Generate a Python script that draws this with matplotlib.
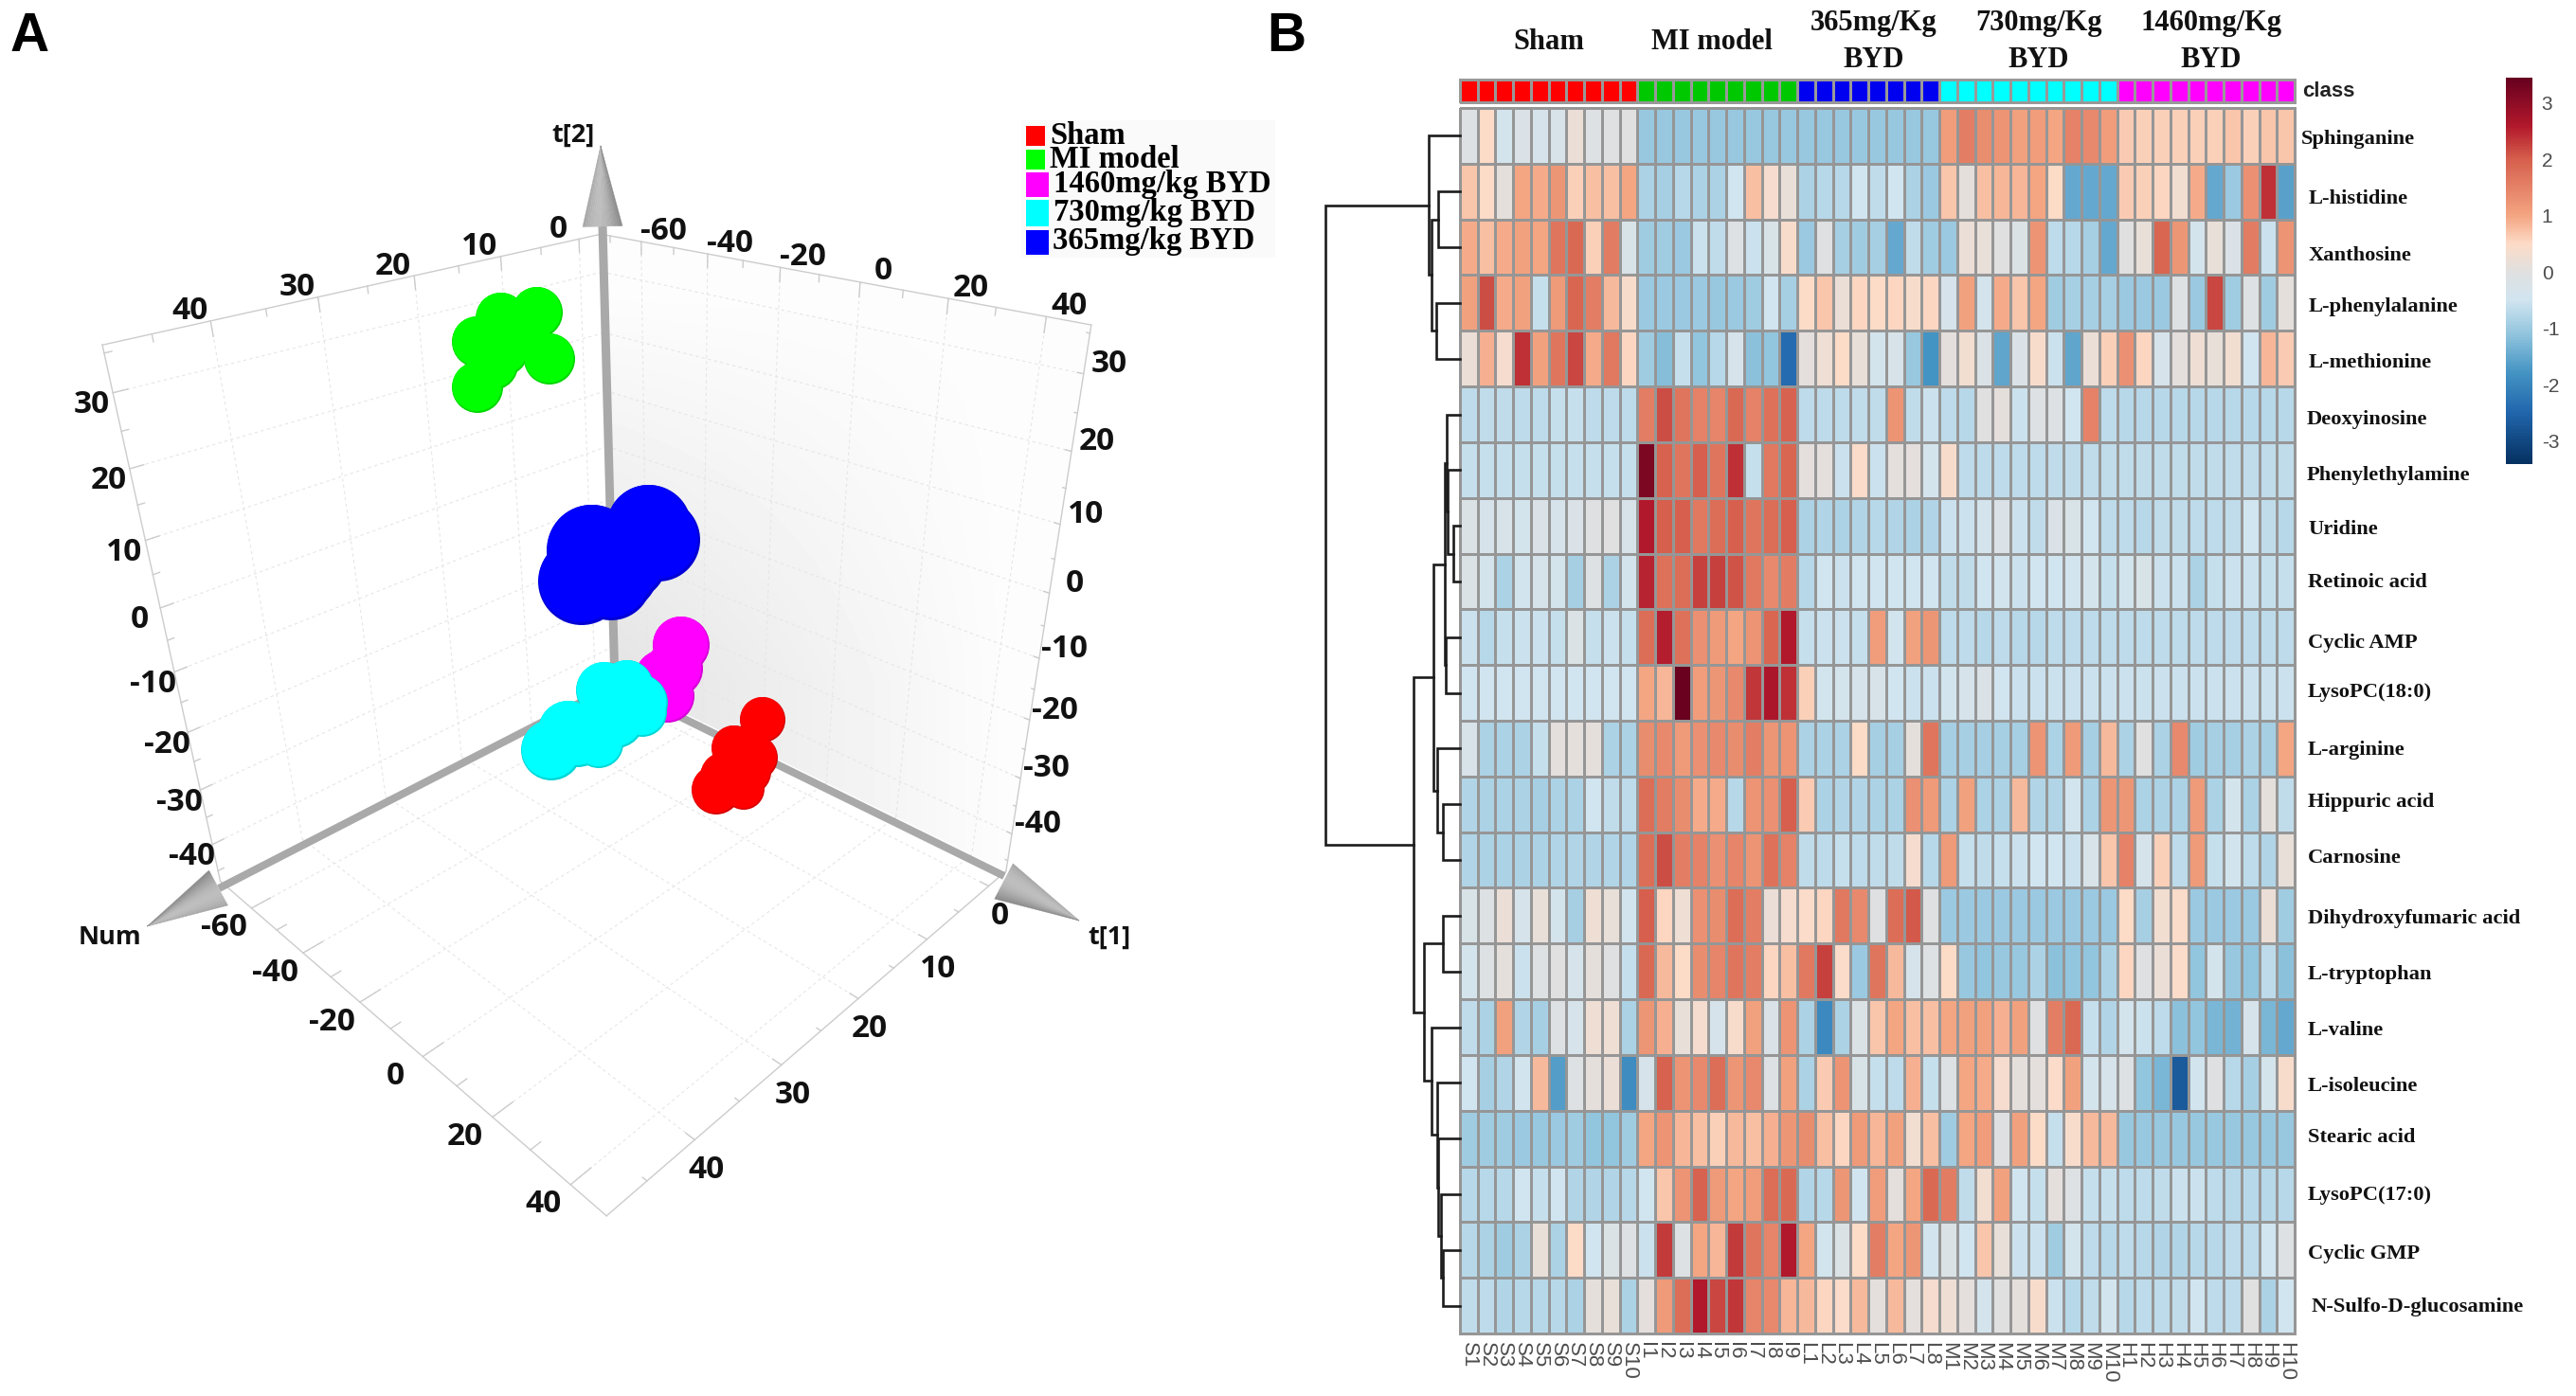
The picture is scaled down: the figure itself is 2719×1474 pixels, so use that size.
import numpy as np
import matplotlib as mpl
mpl.use('Agg')
import matplotlib.pyplot as plt
from matplotlib.colors import LinearSegmentedColormap, ListedColormap, Normalize
from matplotlib.patches import Polygon, Rectangle

W, H = 2719, 1474

sham_x = [805, 797, 790, 778, 775, 765, 785, 756]
sham_y = [760, 800, 815, 816, 790, 820, 833, 834]
sham_r = [24, 24, 24, 26, 24, 26, 22, 26]
model_x = [567, 529, 542, 555, 531, 520, 580, 504, 504]
model_y = [330, 336, 349, 355, 370, 385, 379, 361, 409]
model_r = [27, 27, 27, 27, 27, 27, 27, 27, 27]
h1460_x = [670, 690, 705, 700, 712, 719]
h1460_y = [735, 725, 735, 716, 706, 681]
h1460_r = [28, 28, 28, 30, 30, 30]
m730_x = [678, 662, 638, 675, 632, 650, 655, 610, 625, 600, 582]
m730_y = [752, 725, 729, 742, 785, 760, 745, 780, 770, 772, 792]
m730_r = [26, 28, 30, 30, 26, 30, 32, 30, 30, 32, 32]
l365_x = [695, 685, 660, 645, 648, 625, 614]
l365_y = [570, 557, 590, 612, 600, 581, 614]
l365_r = [44, 45, 45, 43, 48, 48, 46]

legend_names = ['Sham', 'MI model', '1460mg/kg BYD', '730mg/kg BYD', '365mg/kg BYD']
legend_colors = ['#ff0000', '#00ff00', '#ff00ff', '#00ffff', '#0000ff']

num_ticks = [-60, -40, -20, 0, 20, 40]
t1_ticks = [0, 10, 20, 30, 40]
t2_ticks = [-40, -30, -20, -10, 0, 10, 20, 30]

# box limits (num, t1, t2) and where the corners land on the page
NUM0, NUM1 = -73, 48.5
T10, T11 = -3, 49
T20, T21 = -47, 36
box_3d = [(NUM0, T10, T21), (NUM0, T10, T20), (NUM0, T11, T21), (NUM0, T11, T20),
          (NUM1, T10, T21), (NUM1, T10, T20), (NUM1, T11, T20)]
box_px = [(629, 243), (651, 723), (112, 365), (231, 926),
          (1155, 348), (1061, 912), (638, 1289)]

# ---------- panel B: heatmap
samples = ['S%d' % i for i in range(1, 11)] + ['I%d' % i for i in range(1, 10)] + \
          ['L%d' % i for i in range(1, 9)] + ['M%d' % i for i in range(1, 11)] + \
          ['H%d' % i for i in range(1, 11)]
class_codes = [0] * 10 + [1] * 9 + [2] * 8 + [3] * 10 + [4] * 10
class_colors = ['#ff0000', '#00c800', '#0000f0', '#00ffff', '#ff00ff']

metabolites = ['Sphinganine', 'L-histidine', 'Xanthosine', 'L-phenylalanine', 'L-methionine',
               'Deoxyinosine', 'Phenylethylamine', 'Uridine', 'Retinoic acid', 'Cyclic AMP',
               'LysoPC(18:0)', 'L-arginine', 'Hippuric acid', 'Carnosine',
               'Dihydroxyfumaric acid', 'L-tryptophan', 'L-valine', 'L-isoleucine',
               'Stearic acid', 'LysoPC(17:0)', 'Cyclic GMP', 'N-Sulfo-D-glucosamine']
metabolite_x = [2429, 2437, 2437, 2437, 2437, 2435, 2435, 2436, 2436, 2436, 2436,
                2436, 2436, 2436, 2436, 2436, 2436, 2436, 2436, 2436, 2436, 2440]
metabolite_y = [147, 210, 270, 324, 383, 443, 502, 559, 615, 679, 731,
                792, 847, 906, 970, 1029, 1088, 1147, 1201, 1262, 1324, 1380]

heat_values = [
    # Sphinganine
    [-.1, .5, -.4, -.2, -.35, -.3, .2, -.1, -.05, 0,
     -1.05, -1.05, -1.05, -1.05, -1.05, -1.05, -1.05, -1.05, -1.05,
     -1.05, -1.05, -1.05, -1.05, -1.05, -1.05, -1.05, -1.05,
     1.1, 1.55, 1.35, 1.25, 1.05, 1.1, 1.0, 1.5, 1.4, 1.1,
     .65, .6, .6, .6, .6, .6, .7, .6, .7, .7],
    # L-histidine
    [.7, .5, .1, 1.0, .95, 1.2, .6, .75, .75, 1.0,
     -.85, -.9, -.75, -.85, -.85, -.5, .75, .35, .15,
     -.85, -.75, -.75, -.5, -.65, -.5, -.85, -1.0,
     .7, .1, .75, .85, .85, 1.0, .5, -1.5, -1.5, -1.5,
     .65, .6, .55, .3, .95, -1.5, -1.0, 1.3, 2.4, -1.6],
    # Xanthosine
    [.95, .75, .95, 1.05, 1.0, 1.7, 1.85, .6, 1.6, -.25,
     -.95, -.95, -1.0, -.55, -.65, -.1, -.55, -.25, .4,
     -1.0, -.05, -.9, -.95, -.9, -1.5, -.65, -.95,
     -1.0, .2, .15, 0, -.15, 1.25, -.7, -.75, -.9, -1.5,
     0, .15, 1.9, 1.2, -.4, .15, -.2, 1.6, -.55, 1.25],
    # L-phenylalanine
    [1.05, 2.15, .95, 1.05, -.6, 1.15, 1.9, 1.55, .8, .4,
     -1.0, -1.0, -1.0, -1.0, -1.05, -1.0, -.95, -.5, -.9,
     .5, .7, .2, .55, .5, .55, .4, .55,
     -.35, 1.05, -.4, .95, .7, 1.0, -.95, -.9, -.9, -.9,
     -1.0, -1.0, -1.0, -.1, -1.0, 2.2, -.95, -.1, -.95, .1],
    # L-methionine
    [.2, .9, .35, 2.4, 1.05, 1.7, 2.2, .95, 1.65, .55,
     -.95, -1.2, -.6, -1.1, -.75, -.35, -1.15, -1.1, -2.4,
     .05, .25, .5, .15, -.4, -.3, -1.05, -1.8,
     .05, .3, -.2, -1.55, -.2, .4, -.55, -1.55, .2, .6,
     1.3, .55, -.35, .05, .25, .15, .3, -.5, .85, .65],
    # Deoxyinosine
    [-.7, -.65, -.65, -.7, -.7, -.6, -.6, -.7, -.7, -.7,
     1.55, 2.15, 1.7, 1.5, 1.45, 1.85, 1.5, 1.75, 1.95,
     -.7, -.7, -.7, -.65, -.65, 1.25, -.65, -.55,
     -.7, -.75, 0, .1, -.55, -.1, -.1, -.5, 1.5, -.7,
     -.75, -.75, -.75, -.75, -.75, -.75, -.75, -.75, -.75, -.75],
    # Phenylethylamine
    [-.6, -.6, -.6, -.6, -.6, -.6, -.6, -.6, -.6, -.6,
     3.2, 1.95, 1.7, 2.0, 1.7, 2.4, -.6, 1.65, 1.9,
     .05, .05, -.55, .45, -.55, .05, .05, -.4,
     .4, -.7, -.7, -.7, -.7, -.7, -.65, -.65, -.65, -.65,
     -.65, -.65, -.65, -.65, -.65, -.65, -.65, -.65, -.65, -.65],
    # Uridine
    [-.15, -.35, -.3, -.4, -.2, -.35, -.2, -.05, 0, -.3,
     2.6, 2.0, 2.0, 1.65, 1.8, 2.0, 1.7, 1.8, 2.0,
     -.85, -.8, -.85, -.8, -.75, -.8, -.85, -.8,
     -.55, -.55, -.4, -.2, -.55, -.65, -.2, -.25, -.5, -.7,
     -.7, -.75, -.65, -.65, -.7, -.7, -.65, -.5, -.65, -.75],
    # Retinoic acid
    [-.15, -.4, -.85, -.45, -.35, -.4, -.9, -.1, -.85, -.4,
     2.5, 1.75, 1.8, 2.25, 2.25, 2.1, 1.65, 1.4, 1.6,
     -.75, -.5, -.55, -.5, -.5, -.5, -.5, -.5,
     -.65, -.65, -.5, -.45, -.55, -.5, -.5, -.45, -.4, -.6,
     -.45, -.25, -.55, -.55, -.85, -.6, -.55, -.55, -.6, -.6],
    # Cyclic AMP
    [-.55, -.75, -.6, -.55, -.55, -.6, -.15, -.6, -.55, -.6,
     1.8, 2.55, 1.75, 1.3, 1.15, 1.0, 1.25, 1.9, 2.6,
     -.6, -.55, -.55, -.6, 1.1, -.45, 1.05, 1.2,
     -.7, -.7, -.75, -.7, -.75, -.75, -.7, -.7, -.7, -.7,
     -.7, -.7, -.7, -.7, -.7, -.7, -.7, -.7, -.7, -.7],
    # LysoPC(18:0)
    [-.5, -.5, -.5, -.5, -.5, -.5, -.5, -.5, -.5, -.5,
     1.0, .85, 3.4, 1.1, 1.2, 1.4, 2.35, 2.65, 2.4,
     .6, -.45, -.4, -.35, -.3, -.5, -.55, -.55,
     -.45, -.35, -.2, -.5, -.55, -.55, -.55, -.55, -.55, -.55,
     -.55, -.55, -.55, -.55, -.55, -.55, -.55, -.55, -.55, -.55],
    # L-arginine
    [-.3, -.85, -.85, -.85, -.6, .05, .1, .1, -.85, -.85,
     1.35, 1.4, 1.15, 1.3, 1.4, 1.35, 1.55, 1.2, 1.25,
     -.85, -.85, -.85, .5, -.9, -.9, .1, 1.7,
     -.9, -.9, -.9, -.9, -.9, 1.25, -.85, 1.15, -.9, .8,
     -.85, 0, -.85, 1.4, -.95, -.9, -.9, -.85, -.9, 1.0],
    # Hippuric acid
    [-.8, -.85, -.85, -.85, -.9, -.85, -.85, -.5, -.65, -.7,
     1.8, 1.6, 1.35, .95, .95, -.75, 1.25, 1.3, 2.0,
     .65, -.85, -.8, -.8, -.85, -.85, 1.3, 1.15,
     -.85, 1.05, -.85, -.85, .8, -.8, -.8, -.45, -.85, 1.2,
     1.2, -.85, -.85, -.85, 1.15, -.85, -.4, -.85, .1, -.65],
    # Carnosine
    [-.8, -.85, -.85, -.85, -.85, -.8, -.8, -.8, -.8, -.8,
     1.8, 2.15, 1.55, 1.5, 1.3, 1.45, 1.25, 1.75, 1.5,
     -.65, -.7, -.6, -.7, -.65, -.65, .35, -.75,
     1.15, -.6, -.65, -.6, -.55, -.5, -.5, -.55, -.3, .7,
     1.5, -.35, .6, -.7, 1.15, -.6, -.45, -.7, -.8, .15],
    # Dihydroxyfumaric acid
    [-.25, -.1, .2, -.35, .15, -.4, -.9, .25, .15, -.45,
     2.0, .55, .25, 1.3, 1.35, 1.8, 1.55, .2, .35,
     .45, .55, 1.65, 1.4, -.05, 1.8, 2.05, -.05,
     -1.0, -1.0, -1.0, -1.0, -1.0, -1.0, -1.0, -1.0, -1.0, -1.0,
     .5, -.9, .3, .45, -1.0, -1.0, -1.0, -1.0, .2, -.95],
    # L-tryptophan
    [-.4, -.1, .1, -.55, -.1, 0, -.35, .1, -.05, -.6,
     1.85, .8, .5, 1.35, 1.45, 1.7, 1.55, .55, .75,
     1.65, 2.25, .45, -1.0, 1.7, .8, -.35, -.1,
     .5, -1.05, -1.1, -1.05, -1.05, -.85, -1.15, -1.1, -1.1, -.85,
     .55, -.05, .2, .45, -1.1, -.4, -1.05, -1.1, -.7, -1.15],
    # L-valine
    [-.65, -.85, 1.05, -.8, -.9, -.1, -.35, .25, .25, -.85,
     1.2, .9, .15, .35, -.35, .4, 1.05, -.2, 1.25,
     -.85, -1.95, -.85, -.15, .7, 1.0, .75, .75,
     1.0, 1.05, 1.05, .9, 1.05, -.05, 1.55, 1.85, -.6, -.8,
     -.4, -.55, -.7, -1.15, -1.1, -1.3, -1.35, -.35, -1.3, -1.5],
    # L-isoleucine
    [-.5, -.9, -.8, -.45, .8, -1.65, -.1, .1, .2, -1.9,
     -.35, 1.95, 1.25, 1.4, 1.8, 1.2, 1.4, -.1, 1.05,
     -.85, .65, 1.25, -.25, -.6, -.7, .9, -.6,
     -.1, 1.0, .95, .35, .1, .05, .45, 1.05, -.4, -.35,
     -.1, -1.1, -1.3, -2.7, -.45, -.05, -.75, -.9, -.4, .4],
    # Stearic acid
    [-.95, -.95, -.95, -1.0, -1.05, -1.0, -.95, -1.1, -1.1, -.95,
     1.0, 1.25, .85, .75, .6, .8, .75, .9, 1.2,
     1.35, .75, .55, 1.15, .85, 1.05, .3, .75,
     -.95, 1.0, 1.1, -.05, 1.05, .5, -.6, .4, .8, .8,
     -1.05, -1.05, -1.05, -1.05, -1.05, -1.05, -1.05, -1.05, -1.05, -1.05],
    # LysoPC(17:0)
    [-.75, -.75, -.75, -.5, -.6, -.5, -.8, -.8, -.8, -.75,
     -.5, .7, 1.25, 1.95, 1.15, 1.0, 1.1, 1.8, 1.85,
     -.8, -.75, 1.2, -.5, 1.1, .05, 1.0, 1.85,
     1.6, -.65, .3, 1.05, -.5, -.6, .05, -.1, -.6, -.6,
     -.7, -.7, -.65, -.55, -.55, -.7, -.75, -.75, -.75, -.75],
    # Cyclic GMP
    [-.75, -.85, -.95, -.85, .15, -.85, .5, -.5, -.15, -.1,
     -.55, 2.3, -.1, 1.0, .85, 2.3, 1.7, 1.45, 2.6,
     1.0, -.45, -.15, .5, 1.55, 1.0, 1.2, -.45,
     -.15, -.5, .7, .15, -.55, -.55, -.95, -.4, -.7, -.75,
     -.7, -.75, -.8, -.8, -.75, -.75, -.7, -.7, -.5, -.1],
    # N-Sulfo-D-glucosamine
    [-.65, -.7, -.8, -.75, -.75, -.75, -.85, .1, .15, -.85,
     .05, 1.15, 1.8, 2.6, 2.2, 2.35, 1.45, 1.4, .85,
     .8, .55, .45, .8, .05, .8, .05, .35,
     .25, .05, -.4, 0, .1, .4, -.55, -.75, -.65, -.45,
     -.75, -.7, -.7, -.65, -.5, -.7, -.7, 0, -.85, -.5],
]

# row dendrogram merges: (child a, child b, height). children < 22 are rows, others earlier merges
merges = [(1, 2, 23.3), (3, 4, 25), (22, 23, 30), (0, 24, 33.3),
          (7, 8, 7), (6, 26, 13.5), (5, 27, 14.5), (9, 10, 15), (28, 29, 16),
          (12, 13, 18), (11, 31, 24.3), (30, 32, 28),
          (14, 15, 18), (20, 21, 18.3), (19, 35, 20), (18, 36, 23.3), (17, 37, 24.3),
          (16, 38, 30), (34, 39, 38), (33, 40, 49), (25, 41, 142)]

group_titles = ['Sham', 'MI model', '365mg/Kg\nBYD', '730mg/Kg\nBYD', '1460mg/Kg\nBYD']
group_title_x = [1635, 1807, 1978, 2152, 2334]
group_title_y = [44, 44, 44, 44, 44]

cbar_ticks = [-3, -2, -1, 0, 1, 2, 3]
VMIN, VMAX = -3.41, 3.45

SANS = 'Open Sans'
SERIF = 'Liberation Serif'
ARIAL = 'Liberation Sans'


def px_axes(x0, y0, x1, y1):
    return fig.add_axes([x0 / W, 1 - y1 / H, (x1 - x0) / W, (y1 - y0) / H])


def fit_camera(pts3d, pts2d):
    A, b = [], []
    for (X, Y, Z), (u, v) in zip(pts3d, pts2d):
        A.append([X, Y, Z, 1, 0, 0, 0, 0, -u * X, -u * Y, -u * Z])
        A.append([0, 0, 0, 0, X, Y, Z, 1, -v * X, -v * Y, -v * Z])
        b += [u, v]
    p = np.linalg.lstsq(np.array(A, float), np.array(b, float), rcond=None)[0]
    return np.append(p, 1).reshape(3, 4)


cam = fit_camera(box_3d, box_px)


def project(n, a, b):
    q = cam @ np.array([n, a, b, 1.0])
    return q[0] / q[2], q[1] / q[2]


def seg3d(ax, p, q, **kw):
    a, b = project(*p), project(*q)
    ax.plot([a[0], b[0]], [a[1], b[1]], **kw)


def draw_cone(ax, tip, base, half, z):
    tip, base = np.array(tip, float), np.array(base, float)
    d = tip - base
    perp = np.array([-d[1], d[0]]) / np.hypot(*d)
    n = 16
    for i in range(n):
        s0, s1 = -1 + 2 * i / n, -1 + 2 * (i + 1) / n
        g = 0.56 + 0.18 * np.cos((s0 + s1) / 2 * 1.4 + 0.3)
        ax.add_patch(Polygon([tip, base + perp * half * s0, base + perp * half * s1],
                             closed=True, fc=(g, g, g), ec=(g, g, g), lw=0.3, zorder=z))


def draw_cluster(ax, xs, ys, rs, color, z):
    # dark rim first for the whole cluster, then the bright faces on top
    dark = tuple(0.84 * c for c in mpl.colors.to_rgb(color))
    sizes = [(2 * r * 0.72) ** 2 for r in rs]
    ax.scatter(xs, ys, s=sizes, color=dark, linewidths=0, zorder=z)
    bx = [x - 0.02 * r for x, r in zip(xs, rs)]
    by = [y - 0.035 * r for y, r in zip(ys, rs)]
    ax.scatter(bx, by, s=[s * 0.93 for s in sizes], color=color, linewidths=0, zorder=z + 0.01)


fig = plt.figure(figsize=(W / 100, H / 100), dpi=100, facecolor='white')

# ---------------- panel A ----------------
ax3 = fig.add_axes([0, 0, 1, 1])
ax3.set_xlim(0, W)
ax3.set_ylim(H, 0)
ax3.axis('off')

# right wall shading
gx, gy = np.meshgrid(np.linspace(620, 1160, 120), np.linspace(240, 930, 120))
shade = 1 - 0.10 * np.clip(1 - (gx - 650) / 420, 0, 1) * np.clip((gy - 300) / 420, 0, 1) - 0.008
wall = ax3.imshow(shade, extent=(620, 1160, 930, 240), cmap='gray', vmin=0, vmax=1,
                  aspect='auto', zorder=0, interpolation='bilinear')
wall.set_clip_path(Polygon([project(NUM0, T10, T21), project(NUM1, T10, T21),
                            project(NUM1, T10, T20), project(NUM0, T10, T20)],
                           closed=True, transform=ax3.transData))
ax3.set_xlim(0, W)
ax3.set_ylim(H, 0)

grid_kw = dict(color='#e6e6e6', lw=0.8, ls=(0, (3, 3)), zorder=1)
edge_kw = dict(color='#cccccc', lw=1.0, zorder=1.5)
for z in t2_ticks:
    seg3d(ax3, (NUM0, T10, z), (NUM0, T11, z), **grid_kw)
    seg3d(ax3, (NUM0, T10, z), (NUM1, T10, z), **grid_kw)
for a in t1_ticks:
    seg3d(ax3, (NUM0, a, T21), (NUM0, a, T20), **grid_kw)
    seg3d(ax3, (NUM0, a, T20), (NUM1, a, T20), **grid_kw)
for n in num_ticks:
    seg3d(ax3, (n, T10, T21), (n, T10, T20), **grid_kw)
    seg3d(ax3, (n, T10, T20), (n, T11, T20), **grid_kw)

seg3d(ax3, (NUM0, T10, T21), (NUM0, T11, T21), **edge_kw)
seg3d(ax3, (NUM0, T10, T21), (NUM1, T10, T21), **edge_kw)
seg3d(ax3, (NUM0, T11, T21), (NUM0, T11, T20), **edge_kw)
seg3d(ax3, (NUM1, T10, T21), (NUM1, T10, T20), **edge_kw)
seg3d(ax3, (NUM0, T11, T20), (NUM1, T11, T20), **edge_kw)
seg3d(ax3, (NUM1, T10, T20), (NUM1, T11, T20), **edge_kw)

tick_font = dict(family=SANS, fontweight='bold', fontsize=24, color='#111111',
                 ha='center', va='center', zorder=6)
# short ticks on the box edges, major and halfway minor
for a in np.arange(0, 46, 5):
    ln = 2.0 if a % 10 == 0 else 1.0
    seg3d(ax3, (NUM0, a, T21), (NUM0, a, T21 - ln), **edge_kw)
    seg3d(ax3, (NUM1, a, T20), (NUM1 - ln, a, T20), **edge_kw)
for n in np.arange(-70, 50, 10):
    ln = 2.0 if n % 20 == 0 else 1.0
    seg3d(ax3, (n, T10, T21), (n, T10, T21 - ln), **edge_kw)
    seg3d(ax3, (n, T11, T20), (n, T11 - ln, T20), **edge_kw)
for z in np.arange(-45, 36, 5):
    ln = 1.2 if z % 10 == 0 else 0.6
    seg3d(ax3, (NUM0, T11, z), (NUM0, T11 - ln, z), **edge_kw)
    seg3d(ax3, (NUM1, T10, z), (NUM1 - ln, T10, z), **edge_kw)

for a in t1_ticks:
    x, y = project(NUM0, a, T21)
    ax3.text(x - 22, y - 10, str(a), **tick_font)
    x, y = project(NUM1, a, T20)
    ax3.text(x + 12, y + 32, str(a), **tick_font)
for n in num_ticks:
    x, y = project(n, T10, T21)
    ax3.text(x + 24, y - 11, str(n), **tick_font)
    x, y = project(n, T11, T20)
    ax3.text(x - 29, y + 21, str(n), **tick_font)
for z in t2_ticks:
    x, y = project(NUM0, T11, z)
    ax3.text(x - 22, y + 13, str(z), **tick_font)
    x, y = project(NUM1, T10, z)
    ax3.text(x + 27, y - 10, str(z), **tick_font)

# axis arrows
shaft_kw = dict(color='#a9a9a9', solid_capstyle='butt', zorder=2)
ax3.plot([649, 636], [723, 239], lw=6.5, **shaft_kw)
ax3.plot([649, 231], [723, 938], lw=5.8, **shaft_kw)
ax3.plot([649, 1060], [723, 925], lw=5.8, **shaft_kw)
draw_cone(ax3, (634, 154), (636, 239), 21, 2.5)
draw_cone(ax3, (155.5, 978), (230.5, 937.5), 21, 2.5)
draw_cone(ax3, (1139, 972), (1059.5, 930.5), 21, 2.5)

name_font = dict(family=SANS, fontweight='bold', fontsize=19.5, color='#111111',
                 ha='center', va='center', zorder=6)
ax3.text(605, 143, 't[2]', **name_font)
ax3.text(116, 990, 'Num', **name_font)
ax3.text(1171, 990, 't[1]', **name_font)

# clusters, back to front
draw_cluster(ax3, h1460_x, h1460_y, h1460_r, legend_colors[2], 3.0)
draw_cluster(ax3, l365_x, l365_y, l365_r, legend_colors[4], 3.2)
draw_cluster(ax3, model_x, model_y, model_r, legend_colors[1], 3.4)
draw_cluster(ax3, sham_x, sham_y, sham_r, legend_colors[0], 3.6)
draw_cluster(ax3, m730_x, m730_y, m730_r, legend_colors[3], 3.8)

# legend
ax3.add_patch(Rectangle((1078, 127), 268, 145, fc='#fafafa', ec='none', zorder=5))
leg_box_x = [1083, 1083, 1083, 1083, 1083]
leg_box_y = [133, 158, 182, 211, 243]
leg_box_w = [20, 20, 24, 24, 24]
leg_box_h = [21, 21, 26, 28, 26]
leg_text_x = [1108, 1108, 1112, 1112, 1111]
leg_text_y = [143, 168, 194, 224, 254]
for i, name in enumerate(legend_names):
    ax3.add_patch(Rectangle((leg_box_x[i], leg_box_y[i]), leg_box_w[i], leg_box_h[i],
                            fc=legend_colors[i], ec='none', zorder=5.5))
    ax3.text(leg_text_x[i], leg_text_y[i], name, family=SERIF, fontweight='bold', fontsize=23.5,
             color='black', ha='left', va='center', zorder=6)

panel_font = dict(family=ARIAL, fontweight='bold', fontsize=41, color='black', ha='center', va='center')
ax3.text(31, 39, 'A', **panel_font)
ax3.text(1358, 39, 'B', **panel_font)

# ---------------- panel B ----------------
colour_nodes = [(-3.41, '#053061'), (-2.5, '#2166ac'), (-1.8, '#4393c3'), (-1.1, '#92c5de'),
                (-0.5, '#d1e5f0'), (0, '#e0e0e0'), (0.5, '#fddbc7'), (1.0, '#f4a582'),
                (2.0, '#d6604d'), (2.6, '#b2182b'), (3.45, '#67001f')]
heat_cmap = LinearSegmentedColormap.from_list(
    'rdbu_grey', [((v - VMIN) / (VMAX - VMIN), c) for v, c in colour_nodes], N=256)
norm = Normalize(VMIN, VMAX)

HEAT_L, HEAT_R, HEAT_T, HEAT_B = 1541, 2422, 114, 1408
values = np.array(heat_values)
n_rows, n_cols = values.shape

ax_h = px_axes(HEAT_L, HEAT_T, HEAT_R, HEAT_B)
mesh = ax_h.pcolormesh(values, cmap=heat_cmap, norm=norm, edgecolors='#969696', linewidth=2.0)
mesh.set_clip_on(False)
ax_h.set_xlim(0, n_cols)
ax_h.set_ylim(n_rows, 0)
for s in ax_h.spines.values():
    s.set_visible(False)
ax_h.set_yticks([])
ax_h.set_xticks(np.arange(n_cols) + 0.5)
ax_h.set_xticklabels(samples, rotation=270, family=ARIAL, fontsize=16, color='#4d4d4d')
ax_h.tick_params(axis='x', length=0, pad=6.5)

ax_c = px_axes(HEAT_L, 84, HEAT_R, 108)
bar = ax_c.pcolormesh(np.array([class_codes]), cmap=ListedColormap(class_colors), vmin=-0.5, vmax=4.5,
                      edgecolors='#999999', linewidth=2.0)
bar.set_clip_on(False)
ax_c.axis('off')

for i, name in enumerate(metabolites):
    ax3.text(metabolite_x[i], metabolite_y[i], name, family=SERIF, fontweight='bold', fontsize=16.2,
             color='#111111', ha='left', va='center')
ax3.text(2430, 96, 'class', family=ARIAL, fontweight='bold', fontsize=16, color='#222222',
         ha='left', va='center')
for i, name in enumerate(group_titles):
    ax3.text(group_title_x[i], group_title_y[i], name, family=SERIF, fontweight='bold', fontsize=22,
             color='#111111', ha='center', va='center', linespacing=1.42)

# dendrogram, drawn from the merge table
ax_d = px_axes(1399, HEAT_T, HEAT_L, HEAT_B)
ax_d.set_xlim(142, 0)
ax_d.set_ylim(n_rows, 0)
ax_d.axis('off')
node_y = {i: i + 0.5 for i in range(n_rows)}
node_h = {i: 0 for i in range(n_rows)}
for k, (a, b, h) in enumerate(merges):
    ax_d.plot([node_h[a], h, h, node_h[b]], [node_y[a], node_y[a], node_y[b], node_y[b]],
              color='#1c1c1c', lw=1.9, clip_on=False, solid_joinstyle='miter')
    node_y[n_rows + k] = (node_y[a] + node_y[b]) / 2
    node_h[n_rows + k] = h

# colour bar
ax_cb = px_axes(2645, 82, 2673, 490)
cb = fig.colorbar(mpl.cm.ScalarMappable(norm=norm, cmap=heat_cmap), cax=ax_cb, ticks=cbar_ticks)
cb.outline.set_visible(False)
cb.ax.tick_params(length=0, pad=7)
cb.ax.set_yticklabels([str(t) for t in cbar_ticks], family=ARIAL, fontsize=15, color='#4d4d4d')

fig.savefig('out.png', dpi=100, facecolor='white')
